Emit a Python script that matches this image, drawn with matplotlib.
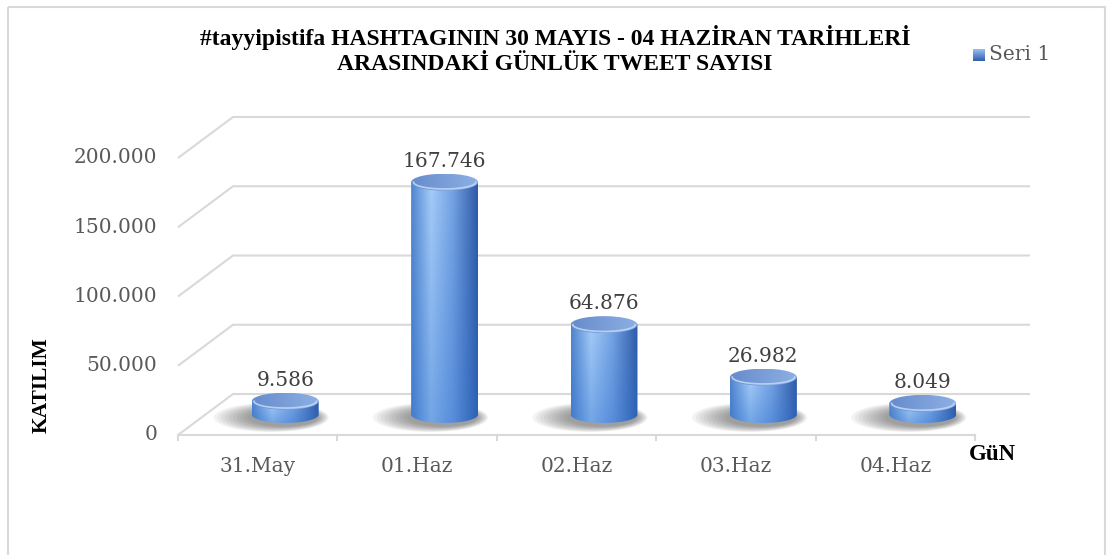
import numpy as np
import matplotlib.pyplot as plt
from matplotlib.patches import Ellipse, PathPatch, Rectangle
from matplotlib.path import Path

categories = ['31.May', '01.Haz', '02.Haz', '03.Haz', '04.Haz']
tweets = [9586, 167746, 64876, 26982, 8049]
y_ticks = [0, 50000, 100000, 150000, 200000]
title_lines = ['#tayyipistifa HASHTAGININ 30 MAYIS - 04 HAZİRAN TARİHLERİ',
               'ARASINDAKİ GÜNLÜK TWEET SAYISI']
series_name = 'Seri 1'
x_title = 'GüN'
y_title = 'KATILIM'

W, H = 1109, 555
n = len(categories)
label_font = 'DejaVu Serif'
title_font = 'Liberation Serif'


def fmt(v):
    # turkish style thousands separator
    return '{:,}'.format(v).replace(',', '.')


fig = plt.figure(figsize=(W / 100, H / 100), dpi=100)

# back wall of the 3d box, this one carries the real scales
ax = fig.add_axes([233 / W, 1 - 394 / H, 797 / W, 277 / H])
ax.set_xlim(-0.5, n - 0.5)
ax.set_ylim(0, 200000)
ax.axis('off')

# overlay in pixel units (y down) for the fake 3d drawing
ov = fig.add_axes([0, 0, 1, 1], zorder=2)
ov.set_xlim(0, W)
ov.set_ylim(H, 0)
ov.axis('off')

depth = np.array([-55.0, 41.0])  # back plane -> front plane, in pixels


def to_px(x, y, shift=0.0):
    d = ax.transData.transform((x, y))
    p = ov.transData.inverted().transform(d)
    return p + depth * shift


grid_col = '#d9d9d9'

# back wall grid + left side diagonals + tick labels
for t in y_ticks:
    bl = to_px(-0.5, t)
    br = to_px(n - 0.5, t)
    fl = to_px(-0.5, t, 1)
    ov.plot([fl[0], bl[0], br[0]], [fl[1], bl[1], br[1]], color=grid_col, lw=1.5,
            solid_capstyle='butt')
    ov.text(fl[0] - 21, fl[1], fmt(t), ha='right', va='center', fontsize=14.5,
            family=label_font, color='#595959')

# floor front edge with category ticks
f0 = to_px(-0.5, 0, 1)
f1 = to_px(n - 0.5, 0, 1)
ov.plot([f0[0], f1[0]], [f0[1], f1[1]], color=grid_col, lw=1.5)
for i in range(n + 1):
    p = to_px(i - 0.5, 0, 1)
    ov.plot([p[0], p[0]], [p[1], p[1] + 5], color=grid_col, lw=1.5)

for i, c in enumerate(categories):
    p = to_px(i, 0, 1)
    ov.text(p[0], p[1] + 31, c, ha='center', va='center', fontsize=14.5,
            family=label_font, color='#595959')


# colour profile across the cylinder side
prof_u = [0.0, 0.3, 0.62, 1.0]
prof_c = np.array([[80, 132, 206], [165, 204, 248], [118, 163, 228], [46, 90, 166]]) / 255.0
bottom_c = np.array([42, 110, 204]) / 255.0


def side_image(rows=120, cols=120):
    u = np.linspace(0, 1, cols)
    row = np.stack([np.interp(u, prof_u, prof_c[:, k]) for k in range(3)], axis=-1)
    t = np.linspace(0, 1, rows)[:, None, None]
    img = row[None, :, :] * (1 - 0.4 * t) + bottom_c[None, None, :] * 0.4 * t
    return np.clip(img, 0, 1)


def top_image(rows=40, cols=120):
    u = np.linspace(0, 1, cols)
    c0 = np.array([104, 140, 204]) / 255.0
    c1 = np.array([140, 175, 228]) / 255.0
    row = c0[None, :] * (1 - u[:, None]) + c1[None, :] * u[:, None]
    return np.repeat(row[None, :, :], rows, axis=0)


side = side_image()
topimg = top_image()
th = np.linspace(0, np.pi, 60)

for i, v in enumerate(tweets):
    base = to_px(i, 0, 0.5)
    top = to_px(i, v, 0.5)
    cw = to_px(i + 0.5, 0)[0] - to_px(i - 0.5, 0)[0]
    a = 0.21 * cw
    b = 8.5
    cx, by, ty = base[0], base[1], top[1]

    # soft shadow on the floor, thrown a bit to the left
    for k in range(10):
        ov.add_patch(Ellipse((cx - 14 + 1.3 * k, by + 3), 2 * a + 48 - 5 * k,
                             2 * b + 12 - 1.2 * k,
                             facecolor='#333333', edgecolor='none', alpha=0.06))

    # side of the cylinder
    xs = np.concatenate([[cx - a], cx - a * np.cos(th), [cx + a]])
    ys = np.concatenate([[ty], by + b * np.sin(th), [ty]])
    clip = PathPatch(Path(np.column_stack([xs, ys])), facecolor='none', edgecolor='none')
    ov.add_patch(clip)
    im = ov.imshow(side, extent=(cx - a, cx + a, by + b, ty), aspect='auto',
                   interpolation='bilinear', zorder=3)
    im.set_clip_path(clip)

    # top cap
    cap = Ellipse((cx, ty), 2 * a, 2 * b, facecolor='none', edgecolor='none')
    ov.add_patch(cap)
    im2 = ov.imshow(topimg, extent=(cx - a, cx + a, ty + b, ty - b), aspect='auto',
                    interpolation='bilinear', zorder=4)
    im2.set_clip_path(cap)
    rx = cx - 0.93 * a * np.cos(th)
    ry = ty + 0.8 * b * np.sin(th)
    ov.plot(rx, ry, color='#bcd7f7', lw=1.2, alpha=0.9, zorder=5)

    ov.text(cx, ty - 21, fmt(v), ha='center', va='center', fontsize=14.5,
            family=label_font, color='#404040', zorder=6)

# axis titles
ov.text(42, 385, y_title, rotation=90, ha='center', va='center', fontsize=15.5,
        fontweight='bold', family=title_font, color='black')
ov.text(969, 455, x_title, ha='left', va='center', fontsize=16.5,
        fontweight='bold', family=title_font, color='black')

# chart title
ov.text(555, 38, title_lines[0], ha='center', va='center', fontsize=17,
        fontweight='bold', family=title_font, color='black')
ov.text(555, 64, title_lines[1], ha='center', va='center', fontsize=17,
        fontweight='bold', family=title_font, color='black')

# legend
sq = Rectangle((973, 49), 12, 12, facecolor='none', edgecolor='none')
ov.add_patch(sq)
leg = np.linspace(0, 1, 20)[:, None, None]
legimg = (np.array([150, 190, 240]) / 255.0) * (1 - leg) + (np.array([50, 95, 175]) / 255.0) * leg
legimg = np.repeat(legimg, 20, axis=1)
im3 = ov.imshow(legimg, extent=(973, 985, 61, 49), aspect='auto', zorder=4)
im3.set_clip_path(sq)
ov.text(989, 55, series_name, ha='left', va='center', fontsize=14.5,
        family=label_font, color='#595959')

# outer chart frame
ov.add_patch(Rectangle((8, 7), 1097, 560, fill=False, edgecolor=grid_col, lw=1.5))

ov.set_xlim(0, W)
ov.set_ylim(H, 0)
fig.savefig('out.png', dpi=100)
